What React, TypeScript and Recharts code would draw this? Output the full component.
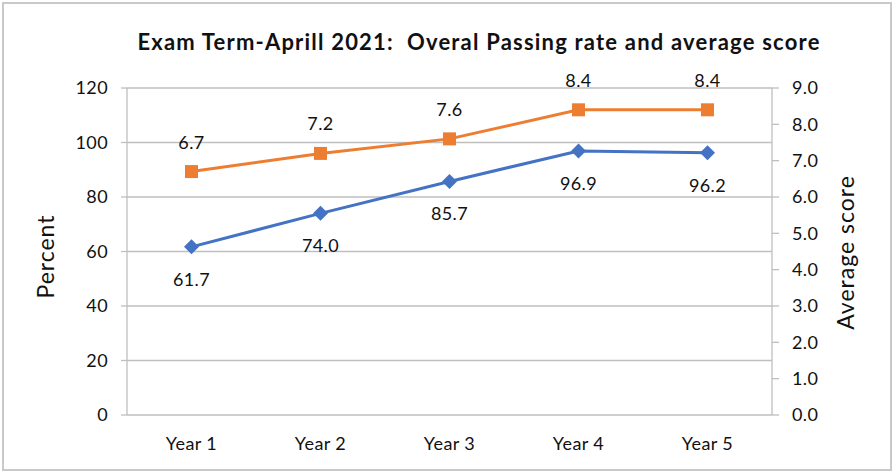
import React from 'react';
import { LineChart, Line, XAxis, YAxis, CartesianGrid, LabelList } from 'recharts';

const categories = ['Year 1', 'Year 2', 'Year 3', 'Year 4', 'Year 5'];
const passingRate = [61.7, 74.0, 85.7, 96.9, 96.2];
const averageScore = [6.7, 7.2, 7.6, 8.4, 8.4];
const percentTicks = [0, 20, 40, 60, 80, 100, 120];
const scoreTicks = [0, 1, 2, 3, 4, 5, 6, 7, 8, 9];
const boundaryTicks = [0, 1, 2, 3, 4, 5];

const title = 'Exam Term-Aprill 2021:  Overal Passing rate and average score';

const data = categories.map((year, i) => ({ year, rate: passingRate[i], score: averageScore[i] }));

const FONT = 'Lato, "Open Sans", sans-serif';
const BLUE = '#4472C4';
const ORANGE = '#ED7D31';
const GRID = '#bfbfbf';
const TEXT = '#111';

const Diamond = (props: any) => {
  const { cx, cy } = props;
  if (cx == null || cy == null) return null;
  const r = 7.5;
  return <path d={`M${cx} ${cy - r} L${cx + r} ${cy} L${cx} ${cy + r} L${cx - r} ${cy} Z`} fill={BLUE} />;
};

const Square = (props: any) => {
  const { cx, cy } = props;
  if (cx == null || cy == null) return null;
  const s = 13;
  return <rect x={cx - s / 2} y={cy - s / 2} width={s} height={s} fill={ORANGE} />;
};

const AxisTitle = (props: any) => {
  const { viewBox, text, dx, dy } = props;
  if (!viewBox) return null;
  const cx = viewBox.x + dx;
  const cy = viewBox.y + viewBox.height / 2 + dy;
  return (
    <text
      x={cx}
      y={cy}
      transform={`rotate(-90 ${cx} ${cy})`}
      textAnchor="middle"
      dominantBaseline="central"
      fontFamily={FONT}
      fontSize={23}
      letterSpacing={1}
      fill={TEXT}
    >
      {text}
    </text>
  );
};

const tickStyle = { fill: TEXT, fontSize: 18, fontFamily: FONT, letterSpacing: 0.4 };

export default function App() {
  return (
    <div style={{ position: 'absolute', left: 0, top: 0, width: 896, height: 472, background: '#fff' }}>
      <div
        style={{
          position: 'absolute',
          left: 2,
          top: 2,
          width: 890,
          height: 469,
          boxSizing: 'border-box',
          border: '2px solid #c9c9c9',
        }}
      />
      <div
        style={{
          position: 'absolute',
          left: 479,
          top: 27,
          transform: 'translateX(-50%)',
          whiteSpace: 'pre',
          fontFamily: FONT,
          fontWeight: 700,
          fontSize: 22,
          letterSpacing: 1.2,
          lineHeight: '30px',
          color: TEXT,
        }}
      >
        {title}
      </div>
      <div style={{ position: 'absolute', left: 0, top: 0 }}>
        <LineChart width={896} height={472} data={data} margin={{ top: 88, right: 0, bottom: 0, left: 0 }}>
          <CartesianGrid xAxisId="cat" yAxisId="left" vertical={false} stroke={GRID} strokeWidth={1.3} />
          <XAxis
            xAxisId="bounds"
            type="number"
            domain={[0, 5]}
            ticks={boundaryTicks}
            allowDataOverflow
            height={0}
            tick={false}
            tickSize={7}
            stroke={GRID}
            axisLine={{ stroke: GRID, strokeWidth: 1.3 }}
            tickLine={{ stroke: GRID, strokeWidth: 1.3 }}
          />
          <XAxis
            xAxisId="cat"
            dataKey="year"
            height={57}
            axisLine={false}
            tickLine={false}
            tickSize={0}
            tickMargin={22}
            interval={0}
            padding={{ left: 64.5, right: 64.5 }}
            tick={tickStyle}
          />
          <YAxis
            yAxisId="left"
            domain={[0, 120]}
            ticks={percentTicks}
            width={127}
            tickSize={6}
            tickMargin={13}
            stroke={GRID}
            axisLine={{ stroke: GRID, strokeWidth: 1.3 }}
            tickLine={{ stroke: GRID, strokeWidth: 1.3 }}
            tick={tickStyle}
            interval={0}
            label={<AxisTitle text="Percent" dx={45} dy={5} />}
          />
          <YAxis
            yAxisId="right"
            orientation="right"
            domain={[0, 9]}
            ticks={scoreTicks}
            width={124}
            tickSize={7}
            tickMargin={13}
            stroke={GRID}
            axisLine={{ stroke: GRID, strokeWidth: 1.3 }}
            tickLine={{ stroke: GRID, strokeWidth: 1.3 }}
            tick={tickStyle}
            interval={0}
            tickFormatter={(v: number) => v.toFixed(1)}
            label={<AxisTitle text="Average score" dx={73} dy={1} />}
          />
          <Line
            xAxisId="cat"
            yAxisId="left"
            dataKey="rate"
            stroke={BLUE}
            strokeWidth={3}
            dot={<Diamond />}
            activeDot={false}
            isAnimationActive={false}
          >
            <LabelList
              dataKey="rate"
              position="bottom"
              offset={26}
              formatter={(v: any) => Number(v).toFixed(1)}
              style={{ fill: TEXT, fontSize: 18, fontFamily: FONT, letterSpacing: 0.4 }}
            />
          </Line>
          <Line
            xAxisId="cat"
            yAxisId="right"
            dataKey="score"
            stroke={ORANGE}
            strokeWidth={3}
            dot={<Square />}
            activeDot={false}
            isAnimationActive={false}
          >
            <LabelList
              dataKey="score"
              position="top"
              offset={23}
              formatter={(v: any) => Number(v).toFixed(1)}
              style={{ fill: TEXT, fontSize: 18, fontFamily: FONT, letterSpacing: 0.4 }}
            />
          </Line>
        </LineChart>
      </div>
    </div>
  );
}
